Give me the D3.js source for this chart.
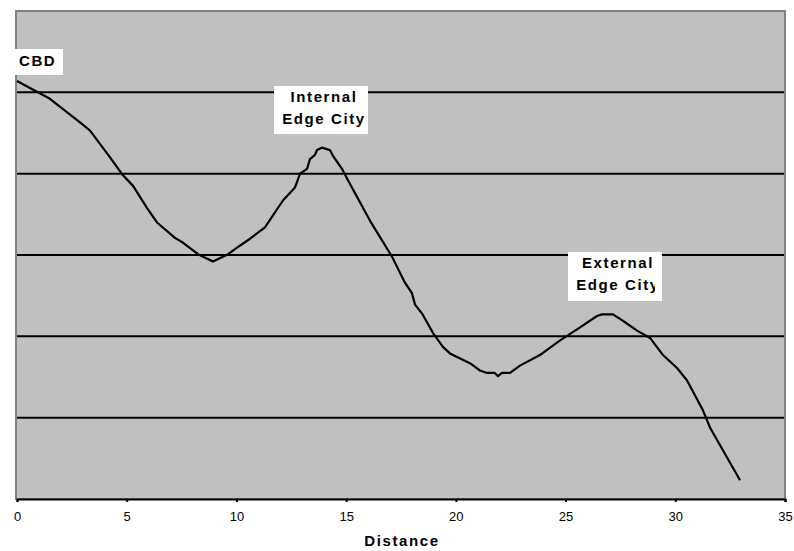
<!DOCTYPE html>
<html lang="en">
<head>
  <meta charset="UTF-8">
  <title>Distance</title>
  <script src="https://d3js.org/d3.v7.min.js"></script>
  <style>
    body { margin: 0; background: #fff; }
    text { font-family: Arial, "Liberation Sans", sans-serif; }
  </style>
</head>
<body>
  <svg id="svg" width="794" height="551"></svg>
  <script>
    // distance from the centre
    var distance = [0, 1.5, 2.87, 3.33, 4.24, 4.83, 5.29, 5.92, 6.38, 7.2, 7.57, 8.25, 8.93,
      9.62, 10.03, 10.62, 11.3, 12.12, 12.67, 12.9, 13.22, 13.35, 13.58, 13.67, 13.9, 14.26,
      14.4, 14.81, 15.04, 16.09, 17.09, 17.68, 18.0, 18.14, 18.46, 18.96, 19.41, 19.73, 20.64,
      21.1, 21.42, 21.78, 21.92, 22.1, 22.47, 22.92, 23.83, 24.75, 25.66, 26.43, 26.66, 27.16,
      27.57, 27.94, 28.26, 28.85, 29.44, 30.08, 30.53, 31.26, 31.58, 32.95]
    var level = [5.14, 4.92, 4.63, 4.53, 4.2, 3.98, 3.85, 3.58, 3.4, 3.21, 3.15, 3.01, 2.92,
      3.01, 3.09, 3.2, 3.34, 3.67, 3.83, 4.0, 4.06, 4.18, 4.23, 4.29, 4.32, 4.29,
      4.22, 4.06, 3.94, 3.42, 2.98, 2.66, 2.53, 2.39, 2.28, 2.04, 1.87, 1.79, 1.67,
      1.58, 1.55, 1.55, 1.51, 1.55, 1.55, 1.64, 1.77, 1.95, 2.11, 2.25, 2.27, 2.27,
      2.2, 2.13, 2.07, 1.98, 1.77, 1.61, 1.46, 1.09, 0.88, 0.23]
    var xTicks = [0, 5, 10, 15, 20, 25, 30, 35]
    var gridLevels = [1, 2, 3, 4, 5]

    var mLeft = 17, mRight = 785, mTop = 11, mBottom = 499

    var x = d3.scaleLinear().domain([0, 35]).range([mLeft, mRight])
    var y = d3.scaleLinear().domain([0, 6]).range([mBottom, mTop])

    var svg = d3.select('#svg')

    // plot area
    svg.append('rect')
      .attr('x', mLeft - 1).attr('y', mTop)
      .attr('width', mRight - mLeft + 1).attr('height', mBottom - mTop)
      .attr('fill', '#c0c0c0')
      .attr('stroke', '#808080')
      .attr('stroke-width', 2)

    // gridlines
    svg.selectAll('.grid')
      .data(gridLevels)
      .enter()
      .append('line')
      .attr('class', 'grid')
      .attr('x1', mLeft).attr('x2', mRight - 1)
      .attr('y1', d => y(d)).attr('y2', d => y(d))
      .attr('stroke', '#000')
      .attr('stroke-width', 2)

    // x axis
    var axis = svg.append('g')
      .attr('transform', 'translate(0,' + mBottom + ')')
      .call(d3.axisBottom(x).tickValues(xTicks).tickSize(3).tickPadding(10))
    axis.attr('font-size', null).attr('font-family', null)
    axis.select('.domain').attr('stroke', '#000').attr('stroke-width', 2)
    axis.selectAll('.tick line').attr('stroke', '#000').attr('stroke-width', 2)
    axis.selectAll('.tick text')
      .style('font-size', '13px')
      .attr('fill', '#000')

    svg.append('text')
      .attr('x', (mLeft + mRight) / 2 + 1)
      .attr('y', 546)
      .attr('text-anchor', 'middle')
      .style('font-size', '15px')
      .attr('font-weight', 'bold')
      .attr('letter-spacing', 1.6)
      .text('Distance')

    // the curve
    var pts = distance.map((d, i) => [d, level[i]])
    var line = d3.line().x(d => x(d[0])).y(d => y(d[1]))
    svg.append('path')
      .datum(pts)
      .attr('d', line)
      .attr('fill', 'none')
      .attr('stroke', '#000')
      .attr('stroke-width', 2.2)
      .attr('stroke-linejoin', 'round')

    // annotation boxes (text is cut off at the right like in the original)
    var notes = [
      { id: 'n0', lines: ['CBD'], bx: x(0) - 2, by: 49, w: 48, h: 26, cw: 48, anchor: 'start' },
      { id: 'n1', lines: ['Internal', 'Edge City'], bx: 274, by: 86, w: 94, h: 48, cw: 94, anchor: 'middle' },
      { id: 'n2', lines: ['External', 'Edge City'], bx: 568, by: 252, w: 94, h: 49, cw: 87, anchor: 'middle' }
    ]
    var defs = svg.append('defs')
    notes.forEach(n => {
      defs.append('clipPath').attr('id', 'clip-' + n.id)
        .append('rect').attr('x', n.bx).attr('y', n.by).attr('width', n.cw).attr('height', n.h)
      svg.append('rect')
        .attr('x', n.bx).attr('y', n.by)
        .attr('width', n.w).attr('height', n.h)
        .attr('fill', '#fff')
      var g = svg.append('g').attr('clip-path', 'url(#clip-' + n.id + ')')
      g.selectAll('text')
        .data(n.lines)
        .enter()
        .append('text')
        .attr('x', n.anchor === 'start' ? n.bx + 4 : n.bx + n.w / 2 + 3)
        .attr('y', (d, i) => n.by + (n.lines.length === 1 ? 17 : 16) + i * 21.5)
        .attr('text-anchor', n.anchor)
        .style('font-size', '15px')
        .attr('font-weight', 'bold')
        .attr('letter-spacing', 1.6)
        .text(d => d)
    })
  </script>
</body>
</html>
